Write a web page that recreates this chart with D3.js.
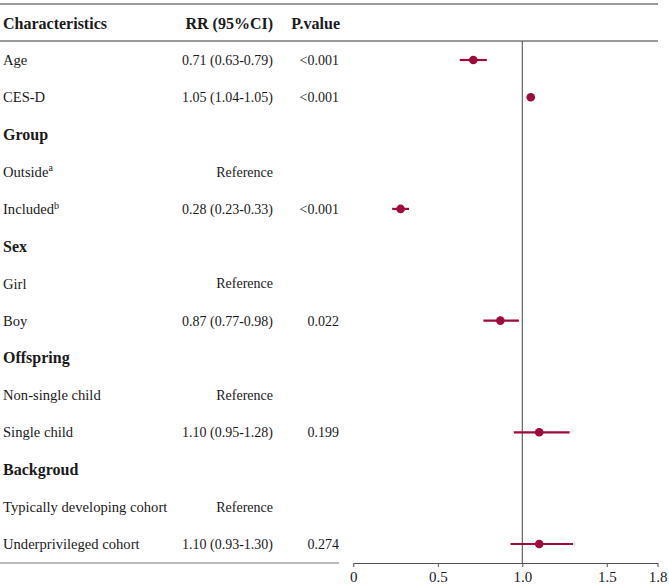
<!DOCTYPE html>
<html lang="en">
<head>
<meta charset="utf-8">
<title>Forest plot - RR (95%CI)</title>
<script src="https://d3js.org/d3.v7.min.js"></script>
<style type="text/css">
  body {
    margin: 0;
    background: #fff;
  }
  svg text {
    font-family: 'Liberation Serif', 'Times New Roman', serif;
    fill: #1a1a1a;
  }
</style>
</head>
<body>

<div id="chart"></div>

<script>

/* Data */
/* ==== */

var labels = ['Age', 'CES-D', 'Group', 'Outside', 'Included', 'Sex', 'Girl', 'Boy',
              'Offspring', 'Non-single child', 'Single child', 'Backgroud',
              'Typically developing cohort', 'Underprivileged cohort'];

// true for the bold section headings
var isHeading = [false, false, true, false, false, true, false, false,
                 true, false, false, true, false, false];

var superscripts = ['', '', '', 'a', 'b', '', '', '', '', '', '', '', '', ''];

var rrText = ['0.71 (0.63-0.79)', '1.05 (1.04-1.05)', '', 'Reference', '0.28 (0.23-0.33)', '',
              'Reference', '0.87 (0.77-0.98)', '', 'Reference', '1.10 (0.95-1.28)', '',
              'Reference', '1.10 (0.93-1.30)'];

var pText = ['<0.001', '<0.001', '', '', '<0.001', '', '', '0.022', '', '', '0.199', '', '', '0.274'];

// point estimate and CI (null = no marker)
var rr    = [0.71, 1.05, null, null, 0.28, null, null, 0.87, null, null, 1.10, null, null, 1.10];
var lower = [0.63, 1.04, null, null, 0.23, null, null, 0.77, null, null, 0.95, null, null, 0.93];
var upper = [0.79, 1.05, null, null, 0.33, null, null, 0.98, null, null, 1.28, null, null, 1.30];

var tickValues = [0, 0.5, 1.0, 1.5, 1.8];
var tickLabels = ['0', '0.5', '1.0', '1.5', '1.8'];


/* Set up */
/* ====== */

var width = 669,
    height = 586,
    markColor = '#9e0b3b',
    ruleColor = '#7a7a7a';

var svg = d3.select('#chart').append('svg')
    .attr('width', width)
    .attr('height', height);

var x = d3.scaleLinear()
    .domain([0, 1.8])
    .range([353.3, 657.5]);

var y = d3.scaleLinear()
    .domain([0, labels.length - 1])
    .range([60, 544]);

var rows = labels.map(function(d, i) {
  return { label: d, heading: isHeading[i], sup: superscripts[i],
           rrText: rrText[i], pText: pText[i],
           rr: rr[i], lo: lower[i], hi: upper[i], i: i };
});


/* Table rules */
/* ----------- */

svg.append('line')
    .attr('x1', 0).attr('x2', 658)
    .attr('y1', 4).attr('y2', 4)
    .attr('stroke', ruleColor).attr('stroke-width', 1.3);

svg.append('line')
    .attr('x1', 0).attr('x2', 658)
    .attr('y1', 41).attr('y2', 41)
    .attr('stroke', ruleColor).attr('stroke-width', 1.3);

svg.append('line')
    .attr('x1', 0).attr('x2', 339)
    .attr('y1', 563).attr('y2', 563)
    .attr('stroke', ruleColor).attr('stroke-width', 1.1);


/* Header */
/* ------ */

var header = svg.append('g')
    .style('font-weight', 'bold')
    .style('font-size', '16px');

header.append('text').attr('x', 3).attr('y', 23).attr('dy', '0.35em').text('Characteristics');
header.append('text').attr('x', 273).attr('y', 23).attr('dy', '0.35em')
    .attr('text-anchor', 'end').text('RR (95%CI)');
header.append('text').attr('x', 340).attr('y', 23).attr('dy', '0.35em')
    .attr('text-anchor', 'end').text('P.value');


/* Rows */
/* ---- */

var row = svg.selectAll('g.row')
    .data(rows)
  .enter().append('g')
    .attr('class', 'row')
    .attr('transform', function(d) { return 'translate(0,' + y(d.i) + ')'; });

var lab = row.append('text')
    .attr('x', 3)
    .attr('dy', '0.35em')
    .style('font-size', function(d) { return d.heading ? '16px' : '14.6px'; })
    .style('font-weight', function(d) { return d.heading ? 'bold' : 'normal'; })
    .text(function(d) { return d.label; });

lab.filter(function(d) { return d.sup; })
  .append('tspan')
    .attr('dy', '-0.55em')
    .style('font-size', '10px')
    .text(function(d) { return d.sup; });

row.append('text')
    .attr('x', 273)
    .attr('dy', '0.35em')
    .attr('text-anchor', 'end')
    .style('font-size', '14px')
    .text(function(d) { return d.rrText; });

row.append('text')
    .attr('x', 339)
    .attr('dy', '0.35em')
    .attr('text-anchor', 'end')
    .style('font-size', '14px')
    .text(function(d) { return d.pText; });


/* Reference line at RR = 1 */
/* ------------------------ */

svg.append('line')
    .attr('x1', x(1)).attr('x2', x(1))
    .attr('y1', 41).attr('y2', 563)
    .attr('stroke', '#555').attr('stroke-width', 1.1);


/* Markers */
/* ------- */

var marks = rows.filter(function(d) { return d.rr !== null; });

svg.selectAll('line.ci')
    .data(marks)
  .enter().append('line')
    .attr('class', 'ci')
    .attr('x1', function(d) { return x(d.lo); })
    .attr('x2', function(d) { return x(d.hi); })
    .attr('y1', function(d) { return y(d.i); })
    .attr('y2', function(d) { return y(d.i); })
    .attr('stroke', markColor)
    .attr('stroke-width', 2.2);

svg.selectAll('circle.pt')
    .data(marks)
  .enter().append('circle')
    .attr('class', 'pt')
    .attr('cx', function(d) { return x(d.rr); })
    .attr('cy', function(d) { return y(d.i); })
    .attr('r', 4.3)
    .attr('fill', markColor);


/* Axis */
/* ---- */

var axis = svg.append('g')
    .attr('transform', 'translate(0,563)')
    .call(d3.axisBottom(x)
      .tickValues(tickValues)
      .tickFormat(function(d, i) { return tickLabels[i]; })
      .tickSize(4)
      .tickSizeOuter(0)
      .tickPadding(4));

axis.select('.domain').attr('stroke', '#555');
axis.selectAll('.tick line').attr('stroke', '#555');
axis.selectAll('.tick text')
    .style('font-family', "'Liberation Serif', 'Times New Roman', serif")
    .style('font-size', '15px')
    .attr('fill', '#1a1a1a');

</script>
</body>
</html>
